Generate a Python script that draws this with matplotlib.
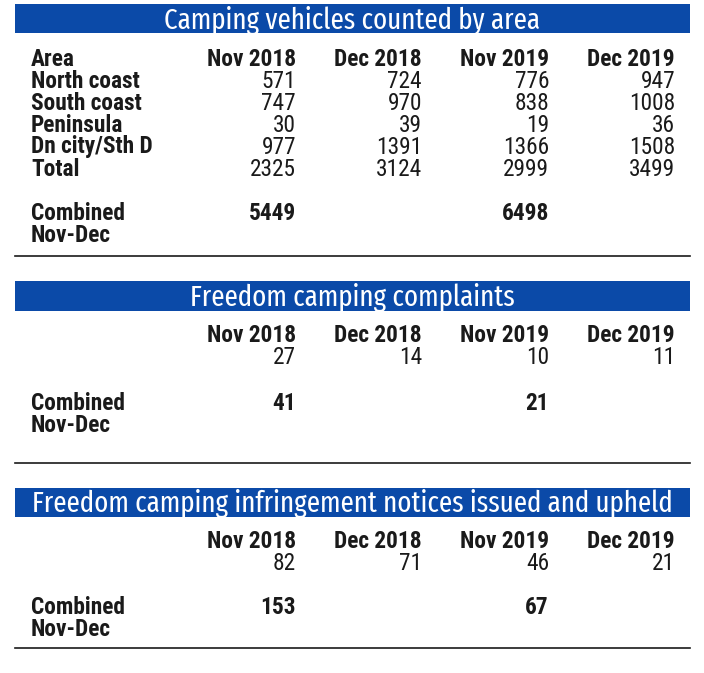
import matplotlib
matplotlib.use("Agg")
import matplotlib.pyplot as plt
from matplotlib.patches import Rectangle

# table data
months = ["Nov 2018", "Dec 2018", "Nov 2019", "Dec 2019"]

areas = ["North coast", "South coast", "Peninsula", "Dn city/Sth D", "Total"]
north_coast = [571, 724, 776, 947]
south_coast = [747, 970, 838, 1008]
peninsula = [30, 39, 19, 36]
dn_city = [977, 1391, 1366, 1508]
total = [2325, 3124, 2999, 3499]
vehicles_combined = [5449, 6498]

complaints = [27, 14, 10, 11]
complaints_combined = [41, 21]

notices = [82, 71, 46, 21]
notices_combined = [153, 67]

titles = [
    "Camping vehicles counted by area",
    "Freedom camping complaints",
    "Freedom camping infringement notices issued and upheld",
]

BLUE = "#0b4aa8"
INK = "#1a1a1a"
BODY_FONT = ["Roboto Condensed", "DejaVu Sans"]
TITLE_FONT = ["Fira Sans Extra Condensed", "Roboto Condensed", "DejaVu Sans"]

W, H = 704, 673
fig = plt.figure(figsize=(W / 100, H / 100), dpi=100)
ax = fig.add_axes([0, 0, 1, 1])
ax.set_xlim(0, W)
ax.set_ylim(H, 0)
ax.axis("off")
renderer = fig.canvas.get_renderer()

left, right = 15, 690
label_x = 31
col_x = [296, 422, 549, 675]
row_h = 22


def fit_size(text, family, weight, target_w, start=14.0):
    # scale a font size so the text spans roughly target_w pixels
    t = ax.text(0, 0, text, fontsize=start, family=family, fontweight=weight)
    w = t.get_window_extent(renderer).width
    t.remove()
    return start * target_w / w


BODY_SIZE = fit_size("Nov 2018", BODY_FONT, "bold", 89)
TITLE_SIZE = fit_size(titles[2], TITLE_FONT, "normal", 638)


def banner(y0, y1, text):
    ax.add_patch(Rectangle((left, y0), right - left, y1 - y0, color=BLUE, lw=0))
    ax.text((left + right) / 2, (y0 + y1) / 2 + 1.5, text, color="white", fontsize=TITLE_SIZE,
            ha="center", va="center", family=TITLE_FONT, fontweight="normal")


def cell(x, y, s, bold=False, ha="right"):
    ax.text(x, y, s, color=INK, fontsize=BODY_SIZE, ha=ha, va="center", family=BODY_FONT,
            fontweight="bold" if bold else "normal")


def block(y_head, rows, combined, y_comb, y_line, header_label=None):
    if header_label:
        cell(label_x, y_head, header_label, bold=True, ha="left")
    for x, m in zip(col_x, months):
        cell(x, y_head, m, bold=True)
    for i, (name, vals) in enumerate(rows):
        y = y_head + row_h * (i + 1)
        if name:
            cell(label_x, y, name, bold=True, ha="left")
        for x, v in zip(col_x, vals):
            cell(x, y, str(v))
    cell(label_x, y_comb, "Combined", bold=True, ha="left")
    cell(label_x, y_comb + row_h, "Nov-Dec", bold=True, ha="left")
    for x, v in zip([col_x[0], col_x[2]], combined):
        cell(x, y_comb, str(v), bold=True)
    ax.plot([left, right], [y_line, y_line], color=INK, lw=1.2)


banner(4, 33, titles[0])
block(59, list(zip(areas, [north_coast, south_coast, peninsula, dn_city, total])),
      vehicles_combined, 213, 256, header_label="Area")

banner(281, 311, titles[1])
block(336, [("", complaints)], complaints_combined, 403, 463)

banner(488, 517, titles[2])
block(542, [("", notices)], notices_combined, 608, 648)

fig.savefig("out.png", dpi=100, facecolor="white")
